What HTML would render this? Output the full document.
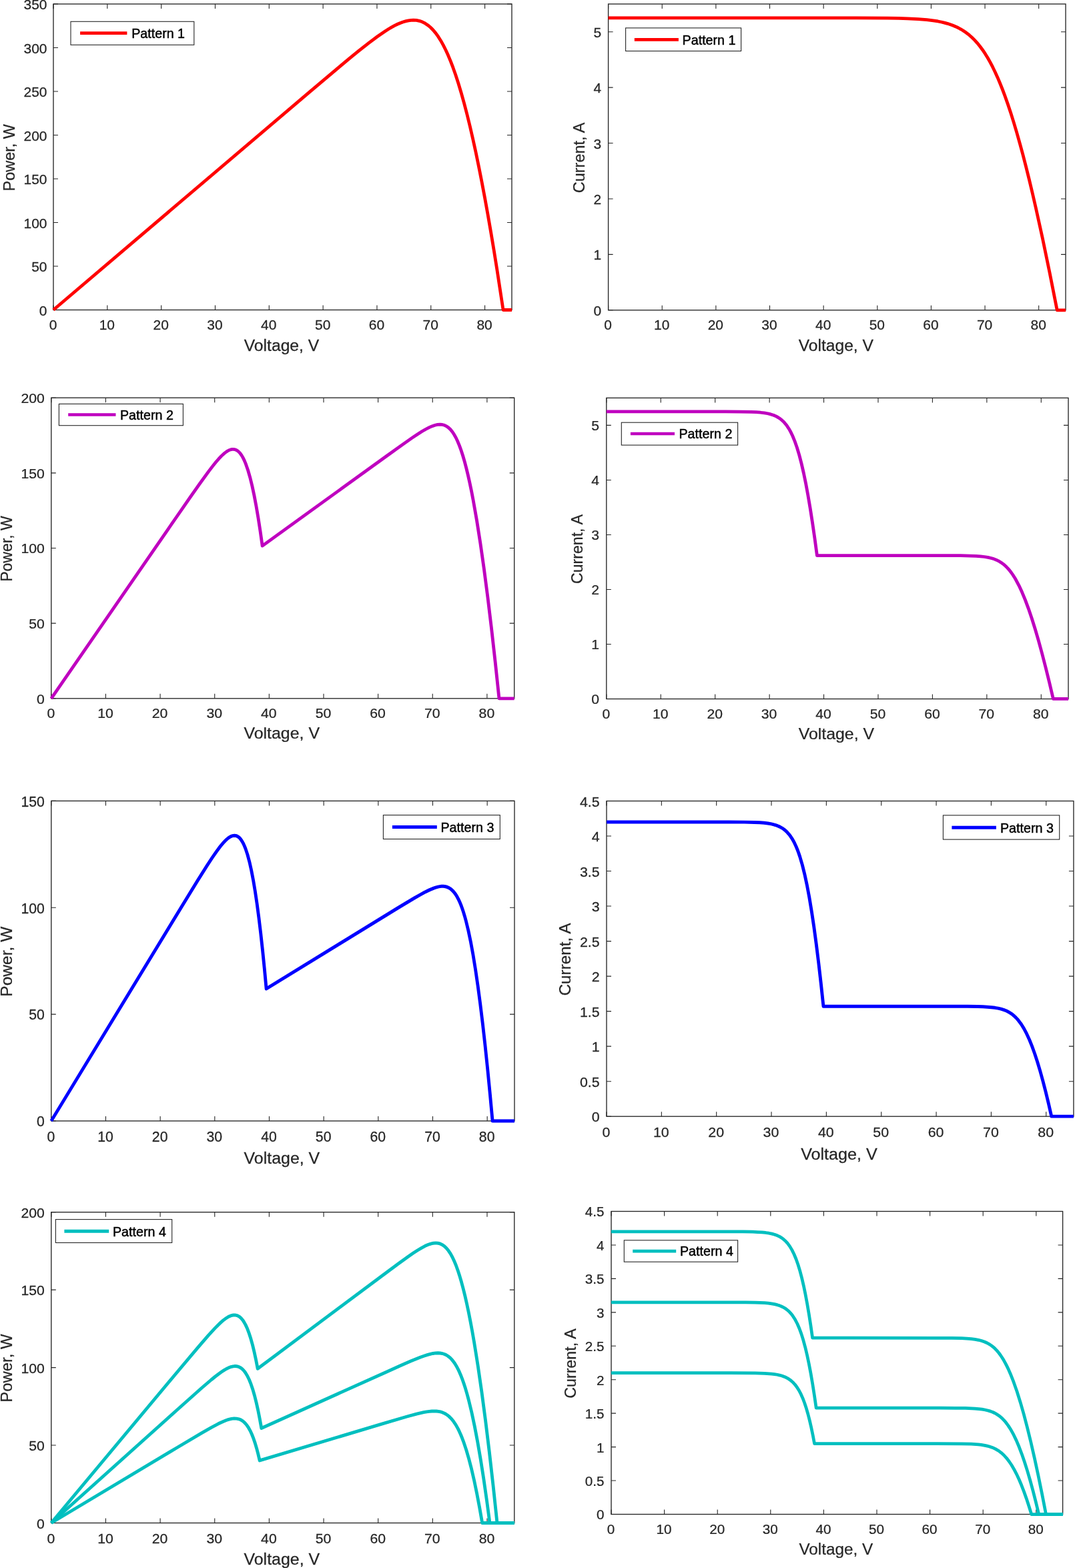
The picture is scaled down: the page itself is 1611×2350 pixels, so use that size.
<!DOCTYPE html>
<html><head><meta charset="utf-8"><title>PV characteristics</title>
<style>html,body{margin:0;padding:0;background:#fff;overflow:hidden;}svg{display:block;}text{font-family:"Liberation Sans", Arial, Helvetica, sans-serif;}.t{stroke:#262626;stroke-width:0.25px;}</style></head><body>
<svg width="1611" height="2350" viewBox="0 0 1611 2350">
<rect x="0" y="0" width="1611" height="2350" fill="#ffffff"/>
<g>
<path d="M80.00 464.50V457.50M80.00 6.00V13.00M160.82 464.50V457.50M160.82 6.00V13.00M241.65 464.50V457.50M241.65 6.00V13.00M322.47 464.50V457.50M322.47 6.00V13.00M403.29 464.50V457.50M403.29 6.00V13.00M484.12 464.50V457.50M484.12 6.00V13.00M564.94 464.50V457.50M564.94 6.00V13.00M645.76 464.50V457.50M645.76 6.00V13.00M726.59 464.50V457.50M726.59 6.00V13.00M80.00 464.50H87.00M767.00 464.50H760.00M80.00 399.00H87.00M767.00 399.00H760.00M80.00 333.50H87.00M767.00 333.50H760.00M80.00 268.00H87.00M767.00 268.00H760.00M80.00 202.50H87.00M767.00 202.50H760.00M80.00 137.00H87.00M767.00 137.00H760.00M80.00 71.50H87.00M767.00 71.50H760.00M80.00 6.00H87.00M767.00 6.00H760.00" stroke="#262626" stroke-width="1.1" fill="none"/>
<rect x="80.00" y="6.00" width="687.00" height="458.50" stroke="#262626" stroke-width="1.35" fill="none"/>
<text transform="translate(79.50 494.23) scale(1.0300 0.9998)" class="t" font-size="20.4" fill="#262626" text-anchor="middle">0</text>
<text transform="translate(160.32 494.23) scale(1.0300 0.9998)" class="t" font-size="20.4" fill="#262626" text-anchor="middle">10</text>
<text transform="translate(241.15 494.23) scale(1.0300 0.9998)" class="t" font-size="20.4" fill="#262626" text-anchor="middle">20</text>
<text transform="translate(321.97 494.23) scale(1.0300 0.9998)" class="t" font-size="20.4" fill="#262626" text-anchor="middle">30</text>
<text transform="translate(402.79 494.23) scale(1.0300 0.9998)" class="t" font-size="20.4" fill="#262626" text-anchor="middle">40</text>
<text transform="translate(483.62 494.23) scale(1.0300 0.9998)" class="t" font-size="20.4" fill="#262626" text-anchor="middle">50</text>
<text transform="translate(564.44 494.23) scale(1.0300 0.9998)" class="t" font-size="20.4" fill="#262626" text-anchor="middle">60</text>
<text transform="translate(645.26 494.23) scale(1.0300 0.9998)" class="t" font-size="20.4" fill="#262626" text-anchor="middle">70</text>
<text transform="translate(726.09 494.23) scale(1.0300 0.9998)" class="t" font-size="20.4" fill="#262626" text-anchor="middle">80</text>
<text transform="translate(70.55 472.52) scale(1.0300 0.9998)" class="t" font-size="20.4" fill="#262626" text-anchor="end">0</text>
<text transform="translate(70.55 407.02) scale(1.0300 0.9998)" class="t" font-size="20.4" fill="#262626" text-anchor="end">50</text>
<text transform="translate(70.55 341.52) scale(1.0300 0.9998)" class="t" font-size="20.4" fill="#262626" text-anchor="end">100</text>
<text transform="translate(70.55 276.02) scale(1.0300 0.9998)" class="t" font-size="20.4" fill="#262626" text-anchor="end">150</text>
<text transform="translate(70.55 210.52) scale(1.0300 0.9998)" class="t" font-size="20.4" fill="#262626" text-anchor="end">200</text>
<text transform="translate(70.55 145.02) scale(1.0300 0.9998)" class="t" font-size="20.4" fill="#262626" text-anchor="end">250</text>
<text transform="translate(70.55 79.52) scale(1.0300 0.9998)" class="t" font-size="20.4" fill="#262626" text-anchor="end">300</text>
<text transform="translate(70.55 14.02) scale(1.0300 0.9998)" class="t" font-size="20.4" fill="#262626" text-anchor="end">350</text>
<text transform="translate(422.00 526.00) scale(1.0500 0.9998)" class="t" font-size="23.5" fill="#262626" text-anchor="middle">Voltage, V</text>
<text transform="translate(21.50 236.25) scale(1.0300 0.9998) rotate(-90)" class="t" font-size="23.5" fill="#262626" text-anchor="middle">Power, W</text>
<path transform="scale(1.0000 0.9998)" d="M80.00 464.60 L463.33 138.41 L508.70 100.12 L524.54 86.97 L537.73 76.21 L553.04 64.13 L565.93 54.50 L577.24 46.73 L582.31 43.53 L587.19 40.66 L591.75 38.19 L596.18 36.04 L600.51 34.19 L604.56 32.73 L608.50 31.59 L612.24 30.79 L615.91 30.30 L619.38 30.15 L624.02 30.45 L628.46 31.34 L632.81 32.84 L637.01 34.94 L641.11 37.66 L645.13 41.02 L649.07 45.01 L652.94 49.64 L656.77 54.96 L660.54 60.93 L664.28 67.62 L667.98 74.99 L671.66 83.09 L675.33 91.95 L678.97 101.48 L682.62 111.84 L686.93 125.07 L691.27 139.47 L695.58 154.91 L699.93 171.54 L704.29 189.32 L708.66 208.26 L713.06 228.38 L717.49 249.71 L721.95 272.25 L726.45 296.09 L730.97 321.08 L735.52 347.32 L740.11 374.79 L744.73 403.49 L754.07 464.60 L767.00 464.60" stroke="#ff0000" stroke-width="4.8" fill="none" stroke-linejoin="round" stroke-linecap="butt"/>
<rect x="106.00" y="32.30" width="184.80" height="35.00" fill="#ffffff" stroke="#262626" stroke-width="1.1"/>
<path d="M120.10 49.70H190.40" stroke="#ff0000" stroke-width="4.80"/>
<text x="197.18" y="57.40" font-size="19.7" fill="#000000" stroke="#000000" stroke-width="0.45">Pattern 1</text>
</g>
<g>
<path d="M911.60 464.80V457.80M911.60 6.00V13.00M992.24 464.80V457.80M992.24 6.00V13.00M1072.87 464.80V457.80M1072.87 6.00V13.00M1153.51 464.80V457.80M1153.51 6.00V13.00M1234.14 464.80V457.80M1234.14 6.00V13.00M1314.78 464.80V457.80M1314.78 6.00V13.00M1395.41 464.80V457.80M1395.41 6.00V13.00M1476.05 464.80V457.80M1476.05 6.00V13.00M1556.68 464.80V457.80M1556.68 6.00V13.00M911.60 464.80H918.60M1597.00 464.80H1590.00M911.60 381.38H918.60M1597.00 381.38H1590.00M911.60 297.96H918.60M1597.00 297.96H1590.00M911.60 214.55H918.60M1597.00 214.55H1590.00M911.60 131.13H918.60M1597.00 131.13H1590.00M911.60 47.71H918.60M1597.00 47.71H1590.00" stroke="#262626" stroke-width="1.1" fill="none"/>
<rect x="911.60" y="6.00" width="685.40" height="458.80" stroke="#262626" stroke-width="1.35" fill="none"/>
<text transform="translate(911.10 494.44) scale(1.0276 1.0004)" class="t" font-size="20.4" fill="#262626" text-anchor="middle">0</text>
<text transform="translate(991.74 494.44) scale(1.0276 1.0004)" class="t" font-size="20.4" fill="#262626" text-anchor="middle">10</text>
<text transform="translate(1072.37 494.44) scale(1.0276 1.0004)" class="t" font-size="20.4" fill="#262626" text-anchor="middle">20</text>
<text transform="translate(1153.01 494.44) scale(1.0276 1.0004)" class="t" font-size="20.4" fill="#262626" text-anchor="middle">30</text>
<text transform="translate(1233.64 494.44) scale(1.0276 1.0004)" class="t" font-size="20.4" fill="#262626" text-anchor="middle">40</text>
<text transform="translate(1314.28 494.44) scale(1.0276 1.0004)" class="t" font-size="20.4" fill="#262626" text-anchor="middle">50</text>
<text transform="translate(1394.91 494.44) scale(1.0276 1.0004)" class="t" font-size="20.4" fill="#262626" text-anchor="middle">60</text>
<text transform="translate(1475.55 494.44) scale(1.0276 1.0004)" class="t" font-size="20.4" fill="#262626" text-anchor="middle">70</text>
<text transform="translate(1556.18 494.44) scale(1.0276 1.0004)" class="t" font-size="20.4" fill="#262626" text-anchor="middle">80</text>
<text transform="translate(901.15 472.82) scale(1.0276 1.0004)" class="t" font-size="20.4" fill="#262626" text-anchor="end">0</text>
<text transform="translate(901.15 389.40) scale(1.0276 1.0004)" class="t" font-size="20.4" fill="#262626" text-anchor="end">1</text>
<text transform="translate(901.15 305.98) scale(1.0276 1.0004)" class="t" font-size="20.4" fill="#262626" text-anchor="end">2</text>
<text transform="translate(901.15 222.57) scale(1.0276 1.0004)" class="t" font-size="20.4" fill="#262626" text-anchor="end">3</text>
<text transform="translate(901.15 139.15) scale(1.0276 1.0004)" class="t" font-size="20.4" fill="#262626" text-anchor="end">4</text>
<text transform="translate(901.15 55.73) scale(1.0276 1.0004)" class="t" font-size="20.4" fill="#262626" text-anchor="end">5</text>
<text transform="translate(1252.80 525.91) scale(1.0476 1.0004)" class="t" font-size="23.5" fill="#262626" text-anchor="middle">Voltage, V</text>
<text transform="translate(875.80 236.40) scale(1.0276 1.0004) rotate(-90)" class="t" font-size="23.5" fill="#262626" text-anchor="middle">Current, A</text>
<path transform="scale(0.9977 1.0004)" d="M913.73 26.84 L1286.39 26.90 L1333.18 27.18 L1349.62 27.45 L1363.21 27.83 L1378.90 28.59 L1392.16 29.66 L1403.63 31.09 L1408.87 31.97 L1413.92 32.97 L1418.59 34.07 L1423.11 35.31 L1427.46 36.69 L1431.63 38.23 L1435.63 39.90 L1439.48 41.74 L1443.23 43.75 L1446.89 45.96 L1451.38 49.03 L1455.78 52.46 L1460.04 56.22 L1464.19 60.34 L1468.20 64.79 L1472.17 69.68 L1476.04 74.93 L1479.86 80.62 L1483.63 86.75 L1487.35 93.32 L1491.05 100.40 L1494.70 107.89 L1498.33 115.87 L1501.96 124.41 L1505.58 133.45 L1509.22 143.09 L1513.66 155.57 L1518.15 168.99 L1522.66 183.29 L1527.21 198.54 L1531.81 214.74 L1536.46 231.89 L1541.17 250.06 L1545.97 269.33 L1550.84 289.61 L1555.81 311.07 L1566.03 357.40 L1576.67 408.48 L1587.80 464.60 L1600.73 464.60" stroke="#ff0000" stroke-width="4.8" fill="none" stroke-linejoin="round" stroke-linecap="butt"/>
<rect x="937.60" y="41.90" width="173.00" height="34.60" fill="#ffffff" stroke="#262626" stroke-width="1.1"/>
<path d="M950.80 59.30H1016.90" stroke="#ff0000" stroke-width="4.80"/>
<text x="1022.58" y="66.80" font-size="19.7" fill="#000000" stroke="#000000" stroke-width="0.45">Pattern 1</text>
</g>
<g>
<path d="M76.80 1046.80V1039.80M76.80 596.20V603.20M158.44 1046.80V1039.80M158.44 596.20V603.20M240.07 1046.80V1039.80M240.07 596.20V603.20M321.71 1046.80V1039.80M321.71 596.20V603.20M403.34 1046.80V1039.80M403.34 596.20V603.20M484.98 1046.80V1039.80M484.98 596.20V603.20M566.61 1046.80V1039.80M566.61 596.20V603.20M648.25 1046.80V1039.80M648.25 596.20V603.20M729.88 1046.80V1039.80M729.88 596.20V603.20M76.80 1046.80H83.80M770.70 1046.80H763.70M76.80 934.15H83.80M770.70 934.15H763.70M76.80 821.50H83.80M770.70 821.50H763.70M76.80 708.85H83.80M770.70 708.85H763.70M76.80 596.20H83.80M770.70 596.20H763.70" stroke="#262626" stroke-width="1.1" fill="none"/>
<rect x="76.80" y="596.20" width="693.90" height="450.60" stroke="#262626" stroke-width="1.35" fill="none"/>
<text transform="translate(76.30 1075.59) scale(1.0403 0.9826)" class="t" font-size="20.4" fill="#262626" text-anchor="middle">0</text>
<text transform="translate(157.94 1075.59) scale(1.0403 0.9826)" class="t" font-size="20.4" fill="#262626" text-anchor="middle">10</text>
<text transform="translate(239.57 1075.59) scale(1.0403 0.9826)" class="t" font-size="20.4" fill="#262626" text-anchor="middle">20</text>
<text transform="translate(321.21 1075.59) scale(1.0403 0.9826)" class="t" font-size="20.4" fill="#262626" text-anchor="middle">30</text>
<text transform="translate(402.84 1075.59) scale(1.0403 0.9826)" class="t" font-size="20.4" fill="#262626" text-anchor="middle">40</text>
<text transform="translate(484.48 1075.59) scale(1.0403 0.9826)" class="t" font-size="20.4" fill="#262626" text-anchor="middle">50</text>
<text transform="translate(566.11 1075.59) scale(1.0403 0.9826)" class="t" font-size="20.4" fill="#262626" text-anchor="middle">60</text>
<text transform="translate(647.75 1075.59) scale(1.0403 0.9826)" class="t" font-size="20.4" fill="#262626" text-anchor="middle">70</text>
<text transform="translate(729.38 1075.59) scale(1.0403 0.9826)" class="t" font-size="20.4" fill="#262626" text-anchor="middle">80</text>
<text transform="translate(66.86 1054.70) scale(1.0403 0.9826)" class="t" font-size="20.4" fill="#262626" text-anchor="end">0</text>
<text transform="translate(66.86 942.05) scale(1.0403 0.9826)" class="t" font-size="20.4" fill="#262626" text-anchor="end">50</text>
<text transform="translate(66.86 829.40) scale(1.0403 0.9826)" class="t" font-size="20.4" fill="#262626" text-anchor="end">100</text>
<text transform="translate(66.86 716.75) scale(1.0403 0.9826)" class="t" font-size="20.4" fill="#262626" text-anchor="end">150</text>
<text transform="translate(66.86 604.10) scale(1.0403 0.9826)" class="t" font-size="20.4" fill="#262626" text-anchor="end">200</text>
<text transform="translate(422.25 1106.72) scale(1.0605 0.9826)" class="t" font-size="23.5" fill="#262626" text-anchor="middle">Voltage, V</text>
<text transform="translate(17.60 822.50) scale(1.0403 0.9826) rotate(-90)" class="t" font-size="23.5" fill="#262626" text-anchor="middle">Power, W</text>
<path transform="scale(1.0100 0.9826)" d="M76.04 1065.38 L259.39 792.32 L281.76 759.15 L296.04 738.23 L309.86 718.64 L315.36 711.24 L320.18 705.08 L324.55 699.86 L328.57 695.50 L332.25 691.98 L335.64 689.24 L337.92 687.72 L340.08 686.59 L342.15 685.80 L344.20 685.34 L346.16 685.25 L348.04 685.50 L349.89 686.11 L351.67 687.06 L353.43 688.38 L355.14 690.07 L356.81 692.10 L358.45 694.51 L360.08 697.30 L361.66 700.45 L363.24 704.00 L364.81 707.97 L367.93 717.23 L371.01 728.20 L374.06 740.92 L377.09 755.41 L380.12 771.79 L383.16 790.11 L386.20 810.34 L389.26 832.57 L574.26 695.09 L597.23 678.16 L611.97 667.57 L619.67 662.27 L626.18 658.03 L631.83 654.64 L636.80 651.99 L641.30 649.96 L645.44 648.53 L649.25 647.68 L652.78 647.39 L656.26 647.70 L659.50 648.61 L662.60 650.16 L665.56 652.33 L668.44 655.17 L671.23 658.70 L673.88 662.83 L676.54 667.75 L679.18 673.49 L681.75 679.94 L684.31 687.22 L686.86 695.34 L689.36 704.18 L691.89 714.01 L694.42 724.70 L696.94 736.26 L699.54 749.12 L702.13 762.88 L707.39 793.57 L712.70 828.27 L718.11 867.23 L723.59 910.40 L729.17 957.87 L734.81 1009.45 L740.55 1065.38 L763.04 1065.38" stroke="#bf00bf" stroke-width="4.8" fill="none" stroke-linejoin="round" stroke-linecap="butt"/>
<rect x="88.40" y="605.40" width="186.00" height="32.30" fill="#ffffff" stroke="#262626" stroke-width="1.1"/>
<path d="M102.20 621.50H173.50" stroke="#bf00bf" stroke-width="4.72"/>
<text x="179.98" y="628.70" font-size="19.7" fill="#000000" stroke="#000000" stroke-width="0.45">Pattern 2</text>
</g>
<g>
<path d="M908.80 1047.50V1040.50M908.80 596.40V603.40M990.24 1047.50V1040.50M990.24 596.40V603.40M1071.67 1047.50V1040.50M1071.67 596.40V603.40M1153.11 1047.50V1040.50M1153.11 596.40V603.40M1234.54 1047.50V1040.50M1234.54 596.40V603.40M1315.98 1047.50V1040.50M1315.98 596.40V603.40M1397.41 1047.50V1040.50M1397.41 596.40V603.40M1478.85 1047.50V1040.50M1478.85 596.40V603.40M1560.28 1047.50V1040.50M1560.28 596.40V603.40M908.80 1047.50H915.80M1601.00 1047.50H1594.00M908.80 965.48H915.80M1601.00 965.48H1594.00M908.80 883.46H915.80M1601.00 883.46H1594.00M908.80 801.45H915.80M1601.00 801.45H1594.00M908.80 719.43H915.80M1601.00 719.43H1594.00M908.80 637.41H915.80M1601.00 637.41H1594.00" stroke="#262626" stroke-width="1.1" fill="none"/>
<rect x="908.80" y="596.40" width="692.20" height="451.10" stroke="#262626" stroke-width="1.35" fill="none"/>
<text transform="translate(908.30 1076.61) scale(1.0378 0.9836)" class="t" font-size="20.4" fill="#262626" text-anchor="middle">0</text>
<text transform="translate(989.74 1076.61) scale(1.0378 0.9836)" class="t" font-size="20.4" fill="#262626" text-anchor="middle">10</text>
<text transform="translate(1071.17 1076.61) scale(1.0378 0.9836)" class="t" font-size="20.4" fill="#262626" text-anchor="middle">20</text>
<text transform="translate(1152.61 1076.61) scale(1.0378 0.9836)" class="t" font-size="20.4" fill="#262626" text-anchor="middle">30</text>
<text transform="translate(1234.04 1076.61) scale(1.0378 0.9836)" class="t" font-size="20.4" fill="#262626" text-anchor="middle">40</text>
<text transform="translate(1315.48 1076.61) scale(1.0378 0.9836)" class="t" font-size="20.4" fill="#262626" text-anchor="middle">50</text>
<text transform="translate(1396.91 1076.61) scale(1.0378 0.9836)" class="t" font-size="20.4" fill="#262626" text-anchor="middle">60</text>
<text transform="translate(1478.35 1076.61) scale(1.0378 0.9836)" class="t" font-size="20.4" fill="#262626" text-anchor="middle">70</text>
<text transform="translate(1559.78 1076.61) scale(1.0378 0.9836)" class="t" font-size="20.4" fill="#262626" text-anchor="middle">80</text>
<text transform="translate(897.96 1055.40) scale(1.0378 0.9836)" class="t" font-size="20.4" fill="#262626" text-anchor="end">0</text>
<text transform="translate(897.96 973.38) scale(1.0378 0.9836)" class="t" font-size="20.4" fill="#262626" text-anchor="end">1</text>
<text transform="translate(897.96 891.37) scale(1.0378 0.9836)" class="t" font-size="20.4" fill="#262626" text-anchor="end">2</text>
<text transform="translate(897.96 809.35) scale(1.0378 0.9836)" class="t" font-size="20.4" fill="#262626" text-anchor="end">3</text>
<text transform="translate(897.96 727.33) scale(1.0378 0.9836)" class="t" font-size="20.4" fill="#262626" text-anchor="end">4</text>
<text transform="translate(897.96 645.31) scale(1.0378 0.9836)" class="t" font-size="20.4" fill="#262626" text-anchor="end">5</text>
<text transform="translate(1253.40 1107.93) scale(1.0579 0.9836)" class="t" font-size="23.5" fill="#262626" text-anchor="middle">Voltage, V</text>
<text transform="translate(872.70 822.95) scale(1.0378 0.9836) rotate(-90)" class="t" font-size="23.5" fill="#262626" text-anchor="middle">Current, A</text>
<path transform="scale(1.0076 0.9836)" d="M901.97 627.16 L1079.17 627.19 L1102.15 627.33 L1117.04 627.65 L1124.65 628.02 L1131.15 628.53 L1136.83 629.22 L1141.81 630.11 L1146.37 631.25 L1150.47 632.63 L1154.26 634.31 L1157.73 636.28 L1160.17 637.97 L1162.51 639.86 L1164.74 641.94 L1166.87 644.24 L1168.95 646.79 L1170.95 649.56 L1172.91 652.63 L1174.79 655.91 L1176.64 659.49 L1178.45 663.36 L1181.97 672.04 L1185.36 681.96 L1188.68 693.27 L1191.98 706.19 L1195.25 720.71 L1198.51 736.91 L1201.78 754.93 L1205.06 774.78 L1208.38 796.60 L1211.76 820.46 L1215.19 846.46 L1405.07 846.48 L1428.64 846.61 L1443.80 846.92 L1451.72 847.27 L1458.37 847.77 L1464.17 848.44 L1469.40 849.33 L1474.16 850.45 L1478.52 851.84 L1482.57 853.52 L1486.33 855.49 L1489.10 857.24 L1491.69 859.14 L1494.25 861.28 L1496.74 863.66 L1499.16 866.26 L1501.56 869.13 L1503.93 872.27 L1506.24 875.63 L1508.56 879.31 L1510.86 883.29 L1515.48 892.19 L1520.07 902.34 L1524.73 913.87 L1529.53 927.07 L1534.41 941.74 L1539.40 958.01 L1544.53 975.96 L1549.79 995.59 L1555.19 1016.90 L1560.76 1040.03 L1566.49 1064.92 L1588.97 1064.92" stroke="#bf00bf" stroke-width="4.8" fill="none" stroke-linejoin="round" stroke-linecap="butt"/>
<rect x="931.30" y="633.20" width="174.30" height="33.90" fill="#ffffff" stroke="#262626" stroke-width="1.1"/>
<path d="M944.90 650.00H1011.00" stroke="#bf00bf" stroke-width="4.72"/>
<text x="1017.48" y="657.20" font-size="19.7" fill="#000000" stroke="#000000" stroke-width="0.45">Pattern 2</text>
</g>
<g>
<path d="M76.80 1680.00V1673.00M76.80 1200.40V1207.40M158.47 1680.00V1673.00M158.47 1200.40V1207.40M240.14 1680.00V1673.00M240.14 1200.40V1207.40M321.81 1680.00V1673.00M321.81 1200.40V1207.40M403.48 1680.00V1673.00M403.48 1200.40V1207.40M485.15 1680.00V1673.00M485.15 1200.40V1207.40M566.82 1680.00V1673.00M566.82 1200.40V1207.40M648.49 1680.00V1673.00M648.49 1200.40V1207.40M730.16 1680.00V1673.00M730.16 1200.40V1207.40M76.80 1680.00H83.80M771.00 1680.00H764.00M76.80 1520.13H83.80M771.00 1520.13H764.00M76.80 1360.27H83.80M771.00 1360.27H764.00M76.80 1200.40H83.80M771.00 1200.40H764.00" stroke="#262626" stroke-width="1.1" fill="none"/>
<rect x="76.80" y="1200.40" width="694.20" height="479.60" stroke="#262626" stroke-width="1.35" fill="none"/>
<text transform="translate(76.30 1710.88) scale(1.0408 1.0458)" class="t" font-size="20.4" fill="#262626" text-anchor="middle">0</text>
<text transform="translate(157.97 1710.88) scale(1.0408 1.0458)" class="t" font-size="20.4" fill="#262626" text-anchor="middle">10</text>
<text transform="translate(239.64 1710.88) scale(1.0408 1.0458)" class="t" font-size="20.4" fill="#262626" text-anchor="middle">20</text>
<text transform="translate(321.31 1710.88) scale(1.0408 1.0458)" class="t" font-size="20.4" fill="#262626" text-anchor="middle">30</text>
<text transform="translate(402.98 1710.88) scale(1.0408 1.0458)" class="t" font-size="20.4" fill="#262626" text-anchor="middle">40</text>
<text transform="translate(484.65 1710.88) scale(1.0408 1.0458)" class="t" font-size="20.4" fill="#262626" text-anchor="middle">50</text>
<text transform="translate(566.32 1710.88) scale(1.0408 1.0458)" class="t" font-size="20.4" fill="#262626" text-anchor="middle">60</text>
<text transform="translate(647.99 1710.88) scale(1.0408 1.0458)" class="t" font-size="20.4" fill="#262626" text-anchor="middle">70</text>
<text transform="translate(729.66 1710.88) scale(1.0408 1.0458)" class="t" font-size="20.4" fill="#262626" text-anchor="middle">80</text>
<text transform="translate(66.86 1688.34) scale(1.0408 1.0458)" class="t" font-size="20.4" fill="#262626" text-anchor="end">0</text>
<text transform="translate(66.86 1528.47) scale(1.0408 1.0458)" class="t" font-size="20.4" fill="#262626" text-anchor="end">50</text>
<text transform="translate(66.86 1368.61) scale(1.0408 1.0458)" class="t" font-size="20.4" fill="#262626" text-anchor="end">100</text>
<text transform="translate(66.86 1208.74) scale(1.0408 1.0458)" class="t" font-size="20.4" fill="#262626" text-anchor="end">150</text>
<text transform="translate(422.40 1744.25) scale(1.0610 1.0458)" class="t" font-size="23.5" fill="#262626" text-anchor="middle">Voltage, V</text>
<text transform="translate(17.60 1441.20) scale(1.0408 1.0458) rotate(-90)" class="t" font-size="23.5" fill="#262626" text-anchor="middle">Power, W</text>
<path transform="scale(1.0105 1.0458)" d="M76.00 1606.44 L269.67 1298.81 L292.53 1262.78 L306.99 1240.53 L314.76 1229.07 L321.23 1220.04 L326.80 1212.86 L331.79 1207.14 L334.10 1204.81 L336.31 1202.79 L338.37 1201.14 L340.39 1199.77 L342.31 1198.72 L344.14 1197.98 L345.94 1197.53 L347.65 1197.39 L349.50 1197.57 L351.29 1198.13 L353.02 1199.05 L354.73 1200.37 L356.38 1202.05 L358.00 1204.12 L359.59 1206.59 L361.13 1209.42 L362.65 1212.67 L364.15 1216.33 L367.09 1224.91 L369.97 1235.23 L372.79 1247.32 L375.60 1261.37 L378.37 1277.32 L381.14 1295.32 L383.89 1315.34 L386.65 1337.50 L389.40 1361.76 L392.18 1388.29 L394.96 1417.01 L590.91 1300.71 L614.41 1287.07 L622.49 1282.59 L629.31 1278.99 L637.24 1275.21 L643.85 1272.58 L646.90 1271.62 L649.69 1270.91 L652.29 1270.44 L654.80 1270.18 L657.23 1270.16 L659.48 1270.36 L661.65 1270.80 L663.74 1271.47 L665.73 1272.37 L667.71 1273.53 L669.57 1274.91 L671.40 1276.57 L673.56 1278.91 L675.68 1281.69 L677.72 1284.85 L679.71 1288.43 L681.64 1292.39 L683.57 1296.86 L685.44 1301.72 L687.30 1307.10 L689.15 1313.01 L690.95 1319.32 L694.54 1333.53 L698.06 1349.77 L701.57 1368.20 L705.11 1389.18 L708.65 1412.59 L712.21 1438.45 L715.79 1466.82 L719.39 1497.73 L723.04 1531.38 L726.71 1567.60 L730.42 1606.44 L763.00 1606.44" stroke="#0000ff" stroke-width="4.8" fill="none" stroke-linejoin="round" stroke-linecap="butt"/>
<rect x="574.40" y="1221.60" width="174.90" height="35.90" fill="#ffffff" stroke="#262626" stroke-width="1.1"/>
<path d="M587.90 1239.50H654.80" stroke="#0000ff" stroke-width="5.02"/>
<text x="660.48" y="1247.20" font-size="19.7" fill="#000000" stroke="#000000" stroke-width="0.45">Pattern 3</text>
</g>
<g>
<path d="M909.00 1673.20V1666.20M909.00 1200.50V1207.50M991.34 1673.20V1666.20M991.34 1200.50V1207.50M1073.68 1673.20V1666.20M1073.68 1200.50V1207.50M1156.02 1673.20V1666.20M1156.02 1200.50V1207.50M1238.36 1673.20V1666.20M1238.36 1200.50V1207.50M1320.71 1673.20V1666.20M1320.71 1200.50V1207.50M1403.05 1673.20V1666.20M1403.05 1200.50V1207.50M1485.39 1673.20V1666.20M1485.39 1200.50V1207.50M1567.73 1673.20V1666.20M1567.73 1200.50V1207.50M909.00 1673.20H916.00M1608.90 1673.20H1601.90M909.00 1620.68H916.00M1608.90 1620.68H1601.90M909.00 1568.16H916.00M1608.90 1568.16H1601.90M909.00 1515.63H916.00M1608.90 1515.63H1601.90M909.00 1463.11H916.00M1608.90 1463.11H1601.90M909.00 1410.59H916.00M1608.90 1410.59H1601.90M909.00 1358.07H916.00M1608.90 1358.07H1601.90M909.00 1305.54H916.00M1608.90 1305.54H1601.90M909.00 1253.02H916.00M1608.90 1253.02H1601.90M909.00 1200.50H916.00M1608.90 1200.50H1601.90" stroke="#262626" stroke-width="1.1" fill="none"/>
<rect x="909.00" y="1200.50" width="699.90" height="472.70" stroke="#262626" stroke-width="1.35" fill="none"/>
<text transform="translate(908.50 1704.07) scale(1.0493 1.0307)" class="t" font-size="20.4" fill="#262626" text-anchor="middle">0</text>
<text transform="translate(990.84 1704.07) scale(1.0493 1.0307)" class="t" font-size="20.4" fill="#262626" text-anchor="middle">10</text>
<text transform="translate(1073.18 1704.07) scale(1.0493 1.0307)" class="t" font-size="20.4" fill="#262626" text-anchor="middle">20</text>
<text transform="translate(1155.52 1704.07) scale(1.0493 1.0307)" class="t" font-size="20.4" fill="#262626" text-anchor="middle">30</text>
<text transform="translate(1237.86 1704.07) scale(1.0493 1.0307)" class="t" font-size="20.4" fill="#262626" text-anchor="middle">40</text>
<text transform="translate(1320.21 1704.07) scale(1.0493 1.0307)" class="t" font-size="20.4" fill="#262626" text-anchor="middle">50</text>
<text transform="translate(1402.55 1704.07) scale(1.0493 1.0307)" class="t" font-size="20.4" fill="#262626" text-anchor="middle">60</text>
<text transform="translate(1484.89 1704.07) scale(1.0493 1.0307)" class="t" font-size="20.4" fill="#262626" text-anchor="middle">70</text>
<text transform="translate(1567.23 1704.07) scale(1.0493 1.0307)" class="t" font-size="20.4" fill="#262626" text-anchor="middle">80</text>
<text transform="translate(898.67 1681.43) scale(1.0493 1.0307)" class="t" font-size="20.4" fill="#262626" text-anchor="end">0</text>
<text transform="translate(898.67 1628.91) scale(1.0493 1.0307)" class="t" font-size="20.4" fill="#262626" text-anchor="end">0.5</text>
<text transform="translate(898.67 1576.39) scale(1.0493 1.0307)" class="t" font-size="20.4" fill="#262626" text-anchor="end">1</text>
<text transform="translate(898.67 1523.87) scale(1.0493 1.0307)" class="t" font-size="20.4" fill="#262626" text-anchor="end">1.5</text>
<text transform="translate(898.67 1471.34) scale(1.0493 1.0307)" class="t" font-size="20.4" fill="#262626" text-anchor="end">2</text>
<text transform="translate(898.67 1418.82) scale(1.0493 1.0307)" class="t" font-size="20.4" fill="#262626" text-anchor="end">2.5</text>
<text transform="translate(898.67 1366.30) scale(1.0493 1.0307)" class="t" font-size="20.4" fill="#262626" text-anchor="end">3</text>
<text transform="translate(898.67 1313.78) scale(1.0493 1.0307)" class="t" font-size="20.4" fill="#262626" text-anchor="end">3.5</text>
<text transform="translate(898.67 1261.26) scale(1.0493 1.0307)" class="t" font-size="20.4" fill="#262626" text-anchor="end">4</text>
<text transform="translate(898.67 1208.73) scale(1.0493 1.0307)" class="t" font-size="20.4" fill="#262626" text-anchor="end">4.5</text>
<text transform="translate(1257.45 1737.50) scale(1.0697 1.0307)" class="t" font-size="23.5" fill="#262626" text-anchor="middle">Voltage, V</text>
<text transform="translate(854.80 1437.85) scale(1.0493 1.0307) rotate(-90)" class="t" font-size="23.5" fill="#262626" text-anchor="middle">Current, A</text>
<path transform="scale(1.0188 1.0307)" d="M892.25 1195.26 L1071.70 1195.29 L1094.85 1195.42 L1109.69 1195.73 L1117.43 1196.09 L1123.95 1196.59 L1129.63 1197.26 L1134.59 1198.12 L1139.12 1199.22 L1143.25 1200.58 L1146.99 1202.20 L1150.44 1204.11 L1153.16 1205.97 L1155.73 1208.07 L1158.15 1210.39 L1160.50 1213.03 L1162.75 1215.96 L1164.91 1219.17 L1166.97 1222.67 L1168.98 1226.52 L1170.94 1230.72 L1172.85 1235.29 L1174.74 1240.29 L1176.57 1245.64 L1180.12 1257.55 L1183.59 1271.25 L1187.04 1287.09 L1190.45 1305.00 L1193.84 1325.12 L1197.24 1347.60 L1200.65 1372.50 L1204.11 1400.04 L1207.62 1430.22 L1211.20 1463.29 L1399.49 1463.31 L1422.98 1463.40 L1438.05 1463.62 L1445.95 1463.87 L1452.60 1464.23 L1458.40 1464.71 L1463.44 1465.33 L1468.13 1466.13 L1472.35 1467.11 L1476.23 1468.29 L1479.85 1469.69 L1482.47 1470.92 L1484.99 1472.31 L1487.39 1473.85 L1489.68 1475.53 L1491.91 1477.38 L1494.08 1479.42 L1496.22 1481.66 L1498.29 1484.09 L1502.37 1489.58 L1506.33 1495.96 L1510.22 1503.28 L1514.09 1511.63 L1518.00 1521.19 L1521.95 1531.96 L1525.90 1543.88 L1529.91 1557.08 L1533.98 1571.56 L1538.12 1587.40 L1542.35 1604.67 L1546.66 1623.29 L1579.25 1623.29" stroke="#0000ff" stroke-width="4.8" fill="none" stroke-linejoin="round" stroke-linecap="butt"/>
<rect x="1413.40" y="1221.90" width="174.30" height="36.20" fill="#ffffff" stroke="#262626" stroke-width="1.1"/>
<path d="M1426.40 1240.30H1492.90" stroke="#0000ff" stroke-width="4.95"/>
<text x="1498.98" y="1247.50" font-size="19.7" fill="#000000" stroke="#000000" stroke-width="0.45">Pattern 3</text>
</g>
<g>
<path d="M76.80 2282.50V2275.50M76.80 1816.70V1823.70M158.45 2282.50V2275.50M158.45 1816.70V1823.70M240.09 2282.50V2275.50M240.09 1816.70V1823.70M321.74 2282.50V2275.50M321.74 1816.70V1823.70M403.39 2282.50V2275.50M403.39 1816.70V1823.70M485.04 2282.50V2275.50M485.04 1816.70V1823.70M566.68 2282.50V2275.50M566.68 1816.70V1823.70M648.33 2282.50V2275.50M648.33 1816.70V1823.70M729.98 2282.50V2275.50M729.98 1816.70V1823.70M76.80 2282.50H83.80M770.80 2282.50H763.80M76.80 2166.05H83.80M770.80 2166.05H763.80M76.80 2049.60H83.80M770.80 2049.60H763.80M76.80 1933.15H83.80M770.80 1933.15H763.80M76.80 1816.70H83.80M770.80 1816.70H763.80" stroke="#262626" stroke-width="1.1" fill="none"/>
<rect x="76.80" y="1816.70" width="694.00" height="465.80" stroke="#262626" stroke-width="1.35" fill="none"/>
<text transform="translate(76.30 2312.86) scale(1.0405 1.0157)" class="t" font-size="20.4" fill="#262626" text-anchor="middle">0</text>
<text transform="translate(157.95 2312.86) scale(1.0405 1.0157)" class="t" font-size="20.4" fill="#262626" text-anchor="middle">10</text>
<text transform="translate(239.59 2312.86) scale(1.0405 1.0157)" class="t" font-size="20.4" fill="#262626" text-anchor="middle">20</text>
<text transform="translate(321.24 2312.86) scale(1.0405 1.0157)" class="t" font-size="20.4" fill="#262626" text-anchor="middle">30</text>
<text transform="translate(402.89 2312.86) scale(1.0405 1.0157)" class="t" font-size="20.4" fill="#262626" text-anchor="middle">40</text>
<text transform="translate(484.54 2312.86) scale(1.0405 1.0157)" class="t" font-size="20.4" fill="#262626" text-anchor="middle">50</text>
<text transform="translate(566.18 2312.86) scale(1.0405 1.0157)" class="t" font-size="20.4" fill="#262626" text-anchor="middle">60</text>
<text transform="translate(647.83 2312.86) scale(1.0405 1.0157)" class="t" font-size="20.4" fill="#262626" text-anchor="middle">70</text>
<text transform="translate(729.48 2312.86) scale(1.0405 1.0157)" class="t" font-size="20.4" fill="#262626" text-anchor="middle">80</text>
<text transform="translate(66.86 2290.63) scale(1.0405 1.0157)" class="t" font-size="20.4" fill="#262626" text-anchor="end">0</text>
<text transform="translate(66.86 2174.18) scale(1.0405 1.0157)" class="t" font-size="20.4" fill="#262626" text-anchor="end">50</text>
<text transform="translate(66.86 2057.73) scale(1.0405 1.0157)" class="t" font-size="20.4" fill="#262626" text-anchor="end">100</text>
<text transform="translate(66.86 1941.28) scale(1.0405 1.0157)" class="t" font-size="20.4" fill="#262626" text-anchor="end">150</text>
<text transform="translate(66.86 1824.83) scale(1.0405 1.0157)" class="t" font-size="20.4" fill="#262626" text-anchor="end">200</text>
<text transform="translate(422.30 2345.26) scale(1.0607 1.0157)" class="t" font-size="23.5" fill="#262626" text-anchor="middle">Voltage, V</text>
<text transform="translate(17.60 2050.60) scale(1.0405 1.0157) rotate(-90)" class="t" font-size="23.5" fill="#262626" text-anchor="middle">Power, W</text>
<path transform="scale(1.0102 1.0157)" d="M76.03 2247.22 L258.22 2030.14 L294.79 1986.86 L308.65 1970.95 L318.88 1959.84 L323.20 1955.47 L327.13 1951.75 L330.77 1948.59 L334.11 1946.00 L338.39 1943.25 L340.41 1942.21 L342.33 1941.43 L344.19 1940.87 L345.98 1940.53 L347.71 1940.43 L349.39 1940.55 L351.02 1940.90 L352.62 1941.48 L354.16 1942.29 L355.67 1943.33 L357.16 1944.61 L358.61 1946.13 L360.04 1947.89 L361.43 1949.88 L364.19 1954.68 L366.90 1960.54 L369.54 1967.50 L372.13 1975.55 L374.70 1984.77 L377.23 1995.16 L379.74 2006.76 L382.25 2019.60 L567.55 1881.90 L590.52 1864.98 L605.27 1854.38 L613.04 1849.04 L619.61 1844.77 L625.28 1841.38 L630.27 1838.73 L634.81 1836.70 L639.01 1835.26 L642.90 1834.41 L646.43 1834.14 L649.94 1834.45 L651.63 1834.83 L653.27 1835.37 L654.88 1836.07 L656.46 1836.93 L659.55 1839.15 L662.54 1842.04 L665.40 1845.57 L668.25 1849.86 L671.02 1854.85 L673.78 1860.64 L676.51 1867.22 L679.21 1874.61 L681.90 1882.82 L684.57 1891.83 L687.23 1901.71 L689.88 1912.42 L692.54 1924.06 L695.27 1936.89 L697.99 1950.60 L700.72 1965.31 L703.47 1981.02 L709.00 2015.38 L714.57 2053.67 L720.20 2095.98 L725.89 2142.28 L731.65 2192.66 L737.48 2247.22 L763.03 2247.22" stroke="#00bfbf" stroke-width="4.8" fill="none" stroke-linejoin="round" stroke-linecap="butt"/>
<path transform="scale(1.0102 1.0157)" d="M76.03 2247.22 L262.78 2080.34 L299.68 2047.65 L313.60 2035.79 L319.10 2031.34 L323.95 2027.61 L328.32 2024.47 L332.29 2021.87 L335.89 2019.79 L339.22 2018.16 L341.46 2017.27 L343.58 2016.61 L345.59 2016.15 L347.58 2015.91 L349.47 2015.88 L351.29 2016.07 L353.03 2016.46 L354.73 2017.08 L356.40 2017.92 L357.99 2018.96 L359.55 2020.24 L361.08 2021.74 L362.58 2023.49 L364.03 2025.44 L366.88 2030.10 L369.67 2035.80 L372.39 2042.59 L375.05 2050.46 L377.66 2059.44 L380.24 2069.61 L382.79 2080.97 L385.32 2093.56 L387.84 2107.45 L571.56 2025.12 L594.47 2014.93 L609.15 2008.57 L623.30 2002.84 L628.89 2000.81 L633.81 1999.21 L638.27 1997.99 L642.37 1997.13 L646.20 1996.60 L649.66 1996.44 L653.06 1996.63 L656.20 1997.18 L659.17 1998.10 L661.98 1999.39 L664.69 2001.06 L667.30 2003.14 L669.84 2005.64 L672.29 2008.54 L674.72 2011.94 L677.07 2015.76 L679.40 2020.08 L681.68 2024.88 L683.93 2030.15 L686.17 2035.98 L688.39 2042.33 L690.59 2049.19 L692.84 2056.83 L695.08 2065.08 L699.54 2083.33 L703.99 2104.09 L708.45 2127.38 L712.95 2153.38 L717.46 2181.96 L722.00 2213.25 L726.58 2247.22 L763.03 2247.22" stroke="#00bfbf" stroke-width="4.8" fill="none" stroke-linejoin="round" stroke-linecap="butt"/>
<path transform="scale(1.0102 1.0157)" d="M76.03 2247.22 L262.82 2135.94 L299.72 2114.15 L313.61 2106.25 L323.89 2100.83 L328.26 2098.73 L332.22 2097.00 L335.82 2095.61 L339.14 2094.53 L343.47 2093.51 L347.37 2093.07 L350.99 2093.20 L354.36 2093.91 L357.52 2095.20 L360.49 2097.09 L363.31 2099.60 L366.02 2102.75 L368.65 2106.62 L371.19 2111.20 L373.65 2116.51 L376.06 2122.61 L378.40 2129.47 L380.71 2137.17 L382.97 2145.71 L385.21 2155.12 L566.39 2101.16 L603.83 2090.21 L617.97 2086.39 L628.46 2083.99 L632.91 2083.18 L636.91 2082.62 L640.63 2082.27 L644.09 2082.16 L647.39 2082.27 L650.48 2082.63 L653.39 2083.22 L656.14 2084.06 L658.80 2085.16 L661.30 2086.50 L663.79 2088.15 L666.16 2090.06 L668.49 2092.29 L670.73 2094.78 L672.96 2097.65 L675.12 2100.78 L677.25 2104.27 L679.34 2108.09 L681.40 2112.25 L683.43 2116.74 L685.49 2121.74 L687.55 2127.15 L691.60 2139.13 L695.61 2152.77 L699.60 2168.14 L703.55 2185.21 L707.50 2204.07 L711.45 2224.75 L715.39 2247.22 L763.03 2247.22" stroke="#00bfbf" stroke-width="4.8" fill="none" stroke-linejoin="round" stroke-linecap="butt"/>
<rect x="83.40" y="1827.60" width="174.30" height="34.90" fill="#ffffff" stroke="#262626" stroke-width="1.1"/>
<path d="M96.40 1845.30H163.20" stroke="#00bfbf" stroke-width="4.88"/>
<text x="168.98" y="1852.50" font-size="19.7" fill="#000000" stroke="#000000" stroke-width="0.45">Pattern 4</text>
</g>
<g>
<path d="M916.00 2269.50V2262.50M916.00 1815.50V1822.50M995.60 2269.50V2262.50M995.60 1815.50V1822.50M1075.20 2269.50V2262.50M1075.20 1815.50V1822.50M1154.80 2269.50V2262.50M1154.80 1815.50V1822.50M1234.40 2269.50V2262.50M1234.40 1815.50V1822.50M1314.00 2269.50V2262.50M1314.00 1815.50V1822.50M1393.60 2269.50V2262.50M1393.60 1815.50V1822.50M1473.20 2269.50V2262.50M1473.20 1815.50V1822.50M1552.80 2269.50V2262.50M1552.80 1815.50V1822.50M916.00 2269.50H923.00M1592.60 2269.50H1585.60M916.00 2219.06H923.00M1592.60 2219.06H1585.60M916.00 2168.61H923.00M1592.60 2168.61H1585.60M916.00 2118.17H923.00M1592.60 2118.17H1585.60M916.00 2067.72H923.00M1592.60 2067.72H1585.60M916.00 2017.28H923.00M1592.60 2017.28H1585.60M916.00 1966.83H923.00M1592.60 1966.83H1585.60M916.00 1916.39H923.00M1592.60 1916.39H1585.60M916.00 1865.94H923.00M1592.60 1865.94H1585.60M916.00 1815.50H923.00M1592.60 1815.50H1585.60" stroke="#262626" stroke-width="1.1" fill="none"/>
<rect x="916.00" y="1815.50" width="676.60" height="454.00" stroke="#262626" stroke-width="1.35" fill="none"/>
<text transform="translate(915.50 2298.99) scale(1.0144 0.9900)" class="t" font-size="20.4" fill="#262626" text-anchor="middle">0</text>
<text transform="translate(995.10 2298.99) scale(1.0144 0.9900)" class="t" font-size="20.4" fill="#262626" text-anchor="middle">10</text>
<text transform="translate(1074.70 2298.99) scale(1.0144 0.9900)" class="t" font-size="20.4" fill="#262626" text-anchor="middle">20</text>
<text transform="translate(1154.30 2298.99) scale(1.0144 0.9900)" class="t" font-size="20.4" fill="#262626" text-anchor="middle">30</text>
<text transform="translate(1233.90 2298.99) scale(1.0144 0.9900)" class="t" font-size="20.4" fill="#262626" text-anchor="middle">40</text>
<text transform="translate(1313.50 2298.99) scale(1.0144 0.9900)" class="t" font-size="20.4" fill="#262626" text-anchor="middle">50</text>
<text transform="translate(1393.10 2298.99) scale(1.0144 0.9900)" class="t" font-size="20.4" fill="#262626" text-anchor="middle">60</text>
<text transform="translate(1472.70 2298.99) scale(1.0144 0.9900)" class="t" font-size="20.4" fill="#262626" text-anchor="middle">70</text>
<text transform="translate(1552.30 2298.99) scale(1.0144 0.9900)" class="t" font-size="20.4" fill="#262626" text-anchor="middle">80</text>
<text transform="translate(905.44 2277.45) scale(1.0144 0.9900)" class="t" font-size="20.4" fill="#262626" text-anchor="end">0</text>
<text transform="translate(905.44 2227.00) scale(1.0144 0.9900)" class="t" font-size="20.4" fill="#262626" text-anchor="end">0.5</text>
<text transform="translate(905.44 2176.56) scale(1.0144 0.9900)" class="t" font-size="20.4" fill="#262626" text-anchor="end">1</text>
<text transform="translate(905.44 2126.11) scale(1.0144 0.9900)" class="t" font-size="20.4" fill="#262626" text-anchor="end">1.5</text>
<text transform="translate(905.44 2075.67) scale(1.0144 0.9900)" class="t" font-size="20.4" fill="#262626" text-anchor="end">2</text>
<text transform="translate(905.44 2025.22) scale(1.0144 0.9900)" class="t" font-size="20.4" fill="#262626" text-anchor="end">2.5</text>
<text transform="translate(905.44 1974.78) scale(1.0144 0.9900)" class="t" font-size="20.4" fill="#262626" text-anchor="end">3</text>
<text transform="translate(905.44 1924.34) scale(1.0144 0.9900)" class="t" font-size="20.4" fill="#262626" text-anchor="end">3.5</text>
<text transform="translate(905.44 1873.89) scale(1.0144 0.9900)" class="t" font-size="20.4" fill="#262626" text-anchor="end">4</text>
<text transform="translate(905.44 1823.45) scale(1.0144 0.9900)" class="t" font-size="20.4" fill="#262626" text-anchor="end">4.5</text>
<text transform="translate(1252.80 2330.04) scale(1.0341 0.9900)" class="t" font-size="23.5" fill="#262626" text-anchor="middle">Voltage, V</text>
<text transform="translate(863.20 2043.50) scale(1.0144 0.9900) rotate(-90)" class="t" font-size="23.5" fill="#262626" text-anchor="middle">Current, A</text>
<path transform="scale(0.9849 0.9900)" d="M930.08 1864.47 L1107.50 1864.49 L1130.45 1864.60 L1145.29 1864.87 L1152.92 1865.16 L1159.44 1865.59 L1165.05 1866.15 L1170.06 1866.88 L1174.58 1867.80 L1178.60 1868.92 L1182.33 1870.28 L1185.78 1871.89 L1188.05 1873.17 L1190.21 1874.60 L1192.29 1876.18 L1194.32 1877.95 L1196.25 1879.88 L1198.16 1882.02 L1201.69 1886.75 L1205.04 1892.29 L1208.24 1898.72 L1211.30 1906.07 L1214.26 1914.41 L1217.16 1923.90 L1219.98 1934.50 L1222.76 1946.31 L1225.49 1959.36 L1228.20 1973.77 L1230.90 1989.54 L1233.59 2006.74 L1236.30 2025.49 L1424.58 2025.52 L1448.16 2025.66 L1463.22 2025.99 L1471.15 2026.37 L1477.81 2026.91 L1483.68 2027.64 L1488.86 2028.59 L1493.56 2029.79 L1497.95 2031.28 L1501.97 2033.07 L1505.80 2035.21 L1508.77 2037.23 L1511.61 2039.49 L1514.33 2041.99 L1517.04 2044.84 L1519.70 2048.00 L1522.30 2051.48 L1524.85 2055.26 L1527.38 2059.40 L1529.91 2063.94 L1532.40 2068.81 L1534.90 2074.09 L1537.39 2079.77 L1542.39 2092.36 L1547.41 2106.63 L1552.56 2122.90 L1557.80 2141.09 L1563.12 2161.21 L1568.56 2183.33 L1574.10 2207.45 L1579.77 2233.63 L1585.57 2261.96 L1591.53 2292.49 L1617.08 2292.49" stroke="#00bfbf" stroke-width="4.8" fill="none" stroke-linejoin="round" stroke-linecap="butt"/>
<path transform="scale(0.9849 0.9900)" d="M930.08 1971.47 L1111.02 1971.50 L1134.17 1971.59 L1149.12 1971.82 L1163.38 1972.46 L1169.02 1972.95 L1174.06 1973.60 L1178.57 1974.42 L1182.68 1975.43 L1186.35 1976.61 L1189.83 1978.06 L1192.20 1979.26 L1194.49 1980.63 L1196.66 1982.13 L1198.80 1983.84 L1200.84 1985.71 L1202.77 1987.74 L1204.64 1989.94 L1206.45 1992.34 L1209.93 1997.79 L1213.20 2004.06 L1216.36 2011.34 L1219.38 2019.58 L1222.36 2029.05 L1225.25 2039.65 L1228.08 2051.48 L1230.87 2064.59 L1233.64 2079.09 L1236.39 2095.03 L1239.14 2112.48 L1241.90 2131.48 L1430.17 2131.50 L1453.67 2131.59 L1468.76 2131.80 L1483.33 2132.42 L1489.15 2132.90 L1494.22 2133.52 L1498.94 2134.33 L1503.20 2135.32 L1507.11 2136.50 L1510.76 2137.90 L1513.44 2139.15 L1516.04 2140.56 L1518.51 2142.13 L1520.88 2143.84 L1523.16 2145.71 L1525.44 2147.81 L1527.67 2150.10 L1529.83 2152.56 L1534.09 2158.18 L1538.27 2164.71 L1542.39 2172.20 L1546.48 2180.71 L1550.63 2190.45 L1554.78 2201.31 L1558.96 2213.35 L1563.18 2226.62 L1567.46 2241.18 L1571.78 2256.96 L1576.18 2274.09 L1580.63 2292.49 L1617.08 2292.49" stroke="#00bfbf" stroke-width="4.8" fill="none" stroke-linejoin="round" stroke-linecap="butt"/>
<path transform="scale(0.9849 0.9900)" d="M930.08 2078.48 L1111.07 2078.50 L1149.14 2078.71 L1163.43 2079.13 L1174.09 2079.89 L1178.54 2080.42 L1182.61 2081.09 L1186.29 2081.88 L1189.76 2082.83 L1194.41 2084.55 L1198.68 2086.69 L1202.61 2089.29 L1206.20 2092.36 L1209.60 2096.00 L1212.78 2100.21 L1215.81 2105.06 L1218.69 2110.55 L1221.50 2116.87 L1224.21 2123.97 L1226.84 2131.89 L1229.40 2140.66 L1231.91 2150.37 L1234.40 2161.07 L1236.84 2172.73 L1239.26 2185.49 L1424.83 2185.50 L1463.23 2185.70 L1477.69 2186.10 L1488.52 2186.82 L1493.11 2187.34 L1497.30 2187.97 L1501.14 2188.73 L1504.78 2189.64 L1509.94 2191.36 L1514.75 2193.53 L1519.24 2196.17 L1523.48 2199.31 L1527.58 2203.04 L1531.55 2207.37 L1535.40 2212.33 L1539.19 2217.97 L1543.00 2224.43 L1546.78 2231.67 L1550.55 2239.70 L1554.31 2248.54 L1558.06 2258.21 L1561.84 2268.77 L1565.63 2280.19 L1569.44 2292.49 L1617.08 2292.49" stroke="#00bfbf" stroke-width="4.8" fill="none" stroke-linejoin="round" stroke-linecap="butt"/>
<rect x="935.30" y="1858.80" width="170.30" height="32.40" fill="#ffffff" stroke="#262626" stroke-width="1.1"/>
<path d="M948.20 1875.00H1013.20" stroke="#00bfbf" stroke-width="4.75"/>
<text x="1018.98" y="1882.20" font-size="19.7" fill="#000000" stroke="#000000" stroke-width="0.45">Pattern 4</text>
</g>
</svg>
</body></html>
